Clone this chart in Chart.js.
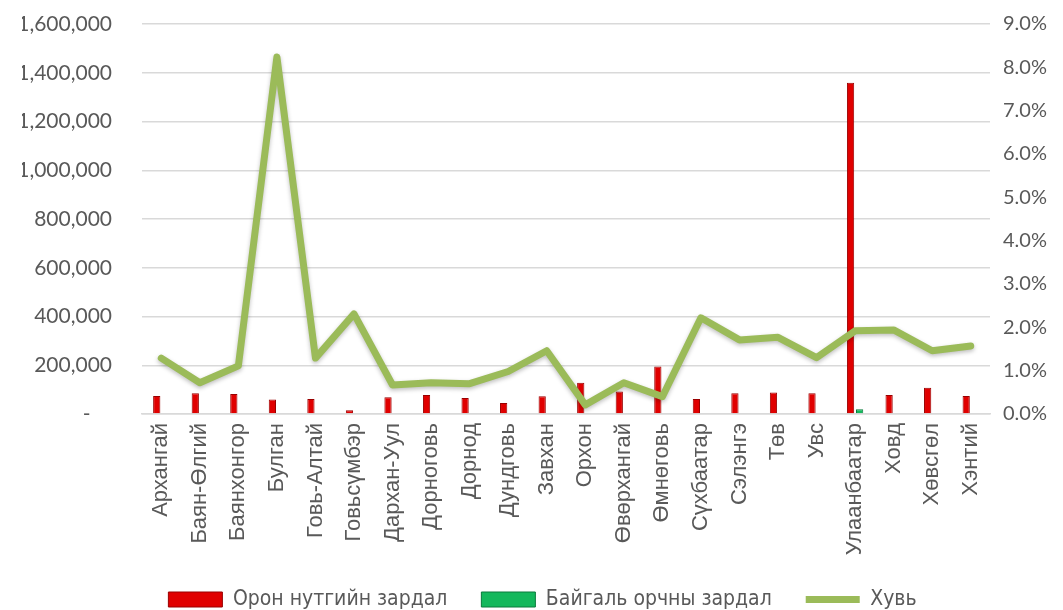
<!DOCTYPE html>
<html>
<head>
<meta charset="utf-8">
<script src="https://cdn.jsdelivr.net/npm/chart.js@4"></script>
<style>
  html, body { margin: 0; padding: 0; background: #fff; }
  #wrap { width: 1063px; height: 610px; position: relative; }
</style>
</head>
<body>
<div id="wrap"><canvas id="zardalChart"></canvas></div>
<script>
// ===== DATA =====
const aimag = [
  "Архангай", "Баян-Өлгий", "Баянхонгор", "Булган", "Говь-Алтай", "Говьсүмбэр",
  "Дархан-Уул", "Дорноговь", "Дорнод", "Дундговь", "Завхан", "Орхон",
  "Өвөрхангай", "Өмнөговь", "Сүхбаатар", "Сэлэнгэ", "Төв", "Увс",
  "Улаанбаатар", "Ховд", "Хөвсгөл", "Хэнтий"
];
// Орон нутгийн зардал
const oronNutag = [
  74000, 85000, 82000, 59000, 62000, 15000, 69000, 78000, 66000, 45000, 73000,
  128000, 92000, 195000, 62000, 85000, 88000, 85000, 1359000, 78000, 108000, 74000
];
// Байгаль орчны зардал
const baigalOrchin = [
  0, 0, 0, 0, 0, 0, 0, 0, 0, 0, 0,
  0, 0, 0, 0, 0, 0, 0, 19000, 0, 0, 0
];
// Хувь (%)
const huvi = [
  1.29, 0.72, 1.11, 8.24, 1.29, 2.31, 0.67, 0.72, 0.70, 0.98, 1.46,
  0.21, 0.72, 0.40, 2.22, 1.71, 1.77, 1.30, 1.92, 1.94, 1.46, 1.57
];

const tickColor = "#595959";
const numFont = "Lato, 'Open Sans', sans-serif";

// ===== ШУГАМЫН СҮҮДЭР =====
const lineShadow = {
  id: "lineShadow",
  beforeDatasetDraw(chart, args) {
    if (args.index !== 2) return;
    const c = chart.ctx;
    c.save();
    c.shadowColor = "rgba(0,0,0,0.25)";
    c.shadowBlur = 4;
    c.shadowOffsetY = 2;
  },
  afterDatasetDraw(chart, args) {
    if (args.index !== 2) return;
    chart.ctx.restore();
  },
};

// y тэнхлэгийн дээд/доод зайг тогтмол болгох
function fixPad(scale, width) {
  scale.width = width;
  scale.paddingTop = 24;
  scale.paddingBottom = 0;
}

const ctx = document.getElementById("zardalChart").getContext("2d");
new Chart(ctx, {
  type: "bar",
  data: {
    labels: aimag,
    datasets: [
      {
        label: "Орон нутгийн зардал",
        data: oronNutag,
        backgroundColor: "#E00000",
        borderColor: "#990000",
        borderWidth: 1,
        yAxisID: "y",
        order: 2,
        categoryPercentage: 0.47,
        barPercentage: 0.8,
      },
      {
        label: "Байгаль орчны зардал",
        data: baigalOrchin,
        backgroundColor: "#14B85C",
        borderColor: "#0A7A3C",
        borderWidth: 1,
        yAxisID: "y",
        order: 2,
        categoryPercentage: 0.47,
        barPercentage: 0.8,
      },
      {
        type: "line",
        label: "Хувь",
        data: huvi,
        borderColor: "#9BBB59",
        backgroundColor: "#9BBB59",
        borderWidth: 7,
        pointRadius: 0,
        tension: 0,
        borderCapStyle: "round",
        borderJoinStyle: "round",
        yAxisID: "y1",
        order: 1,
      },
    ],
  },
  options: {
    responsive: true,
    maintainAspectRatio: false,
    animation: false,
    layout: { padding: { top: 0, left: 22, right: 0, bottom: -10 } },
    plugins: {
      tooltip: { enabled: false },
      legend: {
        position: "bottom",
        labels: {
          color: tickColor,
          font: { family: "'Liberation Sans Narrow', 'DejaVu Sans Condensed', sans-serif", size: 21 },
          usePointStyle: true,
          pointStyleWidth: 54,
          boxHeight: 15,
          padding: 34,
          generateLabels(chart) {
            const items = Chart.defaults.plugins.legend.labels.generateLabels(chart);
            items.sort((a, b) => a.datasetIndex - b.datasetIndex);
            items.forEach((it) => {
              const isLine = it.datasetIndex === 2;
              it.pointStyle = isLine ? "line" : "rect";
              it.lineWidth = isLine ? 7 : 1;
            });
            return items;
          },
        },
      },
    },
    scales: {
      x: {
        grid: { display: false, drawTicks: false },
        border: { color: "#d9d9d9", width: 1.5 },
        ticks: {
          color: tickColor,
          font: { family: "'Liberation Sans', Arial, sans-serif", size: 22 },
          minRotation: 90,
          maxRotation: 90,
          autoSkip: false,
          padding: 9,
        },
        afterFit(scale) { scale.height = 141; },
      },
      y: {
        position: "left",
        min: 0,
        max: 1600000,
        border: { display: false },
        grid: { color: "#d9d9d9", lineWidth: 1.5, drawTicks: false },
        ticks: {
          stepSize: 200000,
          color: tickColor,
          font: { family: numFont, size: 21 },
          padding: 30,
          callback: (v) => (v === 0 ? "-    " : v.toLocaleString("en-US")),
        },
        afterFit(scale) { fixPad(scale, 120); },
      },
      y1: {
        position: "right",
        min: 0,
        max: 9,
        border: { display: false },
        grid: { display: false, drawTicks: false },
        ticks: {
          stepSize: 1,
          color: tickColor,
          font: { family: numFont, size: 20 },
          padding: 13,
          callback: (v) => v.toFixed(1) + "%",
        },
        afterFit(scale) { fixPad(scale, 73); },
      },
    },
  },
  plugins: [lineShadow],
});
</script>
</body>
</html>
